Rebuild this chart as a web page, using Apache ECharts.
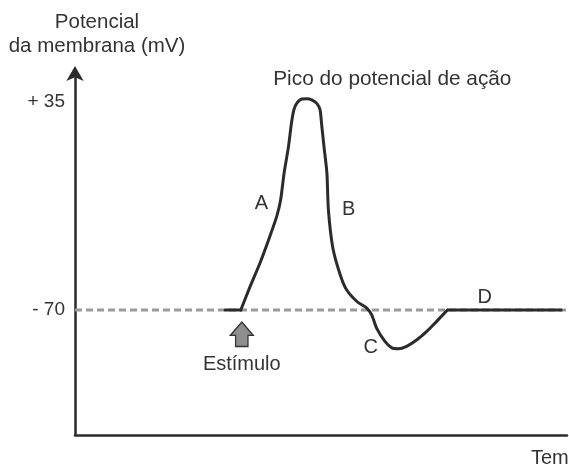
<!DOCTYPE html>
<html>
<head>
<meta charset="utf-8">
<script src="https://cdn.jsdelivr.net/npm/echarts@6/dist/echarts.min.js"></script>
<style>
  html, body { margin: 0; padding: 0; background: #ffffff; }
  #chart { width: 569px; height: 466px; }
</style>
</head>
<body>
<div id="chart"></div>
<script>
// Action potential trace: time (arbitrary units) and membrane potential (mV)
const tempo = [3.05, 3.37, 3.56, 3.76, 3.96, 4.10, 4.18, 4.25, 4.34, 4.40, 4.45, 4.51, 4.61, 4.71, 4.81, 4.91, 4.98, 5.01, 5.06, 5.12, 5.15, 5.24, 5.39, 5.52, 5.73, 5.93, 6.03, 6.13, 6.30, 6.44, 6.57, 6.74, 6.95, 7.15, 7.35, 7.57, 9.88];
const potencial = [-70, -70, -58.1, -46.3, -32.9, -22.8, -14.4, -0.9, 12.5, 24.3, 31.0, 34.3, 36.4, 36.5, 36.0, 34.3, 31.0, 24.3, 12.5, -0.9, -19.4, -38.6, -52.2, -59.8, -65.7, -69.0, -72.4, -79.1, -85.8, -89.1, -89.5, -88.3, -85.0, -80.8, -75.7, -70, -70];

// Resting potential and the labelled values on the vertical axis
const repouso = -70;
const marcasY = [35, -70];

// Phase letters and their anchor points (time, mV)
const fases = ['A', 'B', 'C', 'D'];
const fasesT = [3.79, 5.56, 6.01, 8.33];
const fasesV = [-16.1, -19.4, -89.1, -63.9];

// Stimulus marker and peak caption anchors (time, mV)
const estimulo = { texto: 'Estímulo', t: 3.39, v: -97.6, setaV: -82.2 };
const pico = { texto: 'Pico do potencial de ação', t: 6.45, v: 46.3 };

const FONTE = 'Liberation Sans';
const TINTA = '#2b2b2b';
const TEXTO = '#333333';

const tracado = tempo.map((t, i) => [t, potencial[i]]);
const n = tracado.length;
// flat start and end stay straight; the spike itself is smoothed
const inicio = tracado.slice(0, 2);
const pulso = tracado.slice(1, n - 1);
const fim = tracado.slice(n - 2);

const rotulos = fases.map((f, i) => ({ value: [fasesT[i], fasesV[i]], name: f, fs: 20 }));
rotulos.push({ value: [estimulo.t, estimulo.v], name: estimulo.texto, fs: 20 });
rotulos.push({ value: [pico.t, pico.v], name: pico.texto, fs: 20.8 });

const chart = echarts.init(document.getElementById('chart'), null, { renderer: 'canvas' });

const linha = (nome, dados, suave) => ({
  name: nome,
  type: 'line',
  data: dados,
  symbol: 'none',
  smooth: suave,
  silent: true,
  z: 3,
  lineStyle: { color: TINTA, width: 3, cap: 'round', join: 'round' }
});

chart.setOption({
  animation: false,
  backgroundColor: '#ffffff',
  grid: { left: 75, right: 2, top: 72, bottom: 31, containLabel: false },
  xAxis: {
    type: 'value',
    min: 0,
    max: 10,
    axisLine: { show: true, onZero: false, lineStyle: { color: TINTA, width: 2.5 } },
    axisTick: { show: false },
    axisLabel: { show: false },
    splitLine: { show: false }
  },
  yAxis: {
    type: 'value',
    min: -133,
    max: 50,
    axisLine: {
      show: true,
      onZero: false,
      symbol: ['none', 'arrow'],
      symbolSize: [13, 15],
      symbolOffset: [0, 6],
      lineStyle: { color: TINTA, width: 2.5 }
    },
    axisTick: { show: false },
    splitLine: { show: false },
    axisLabel: {
      customValues: marcasY,
      margin: 10,
      color: TEXTO,
      fontFamily: FONTE,
      fontSize: 19,
      formatter: v => (v > 0 ? '+ ' : '- ') + Math.abs(v)
    }
  },
  graphic: [
    {
      type: 'text',
      x: 97, y: 22,
      silent: true,
      style: {
        text: 'Potencial',
        align: 'center', verticalAlign: 'middle',
        fill: TEXTO,
        font: '20.5px "' + FONTE + '"'
      }
    },
    {
      type: 'text',
      x: 97, y: 46,
      silent: true,
      style: {
        text: 'da membrana (mV)',
        align: 'center', verticalAlign: 'middle',
        fill: TEXTO,
        font: '20.5px "' + FONTE + '"'
      }
    },
    {
      type: 'text',
      x: 531, y: 458,
      silent: true,
      style: {
        text: 'Tempo',
        align: 'left', verticalAlign: 'middle',
        fill: TEXTO,
        font: '20px "' + FONTE + '"'
      }
    }
  ],
  series: [
    {
      name: 'repouso',
      type: 'line',
      data: [[0, repouso], [10, repouso]],
      symbol: 'none',
      silent: true,
      z: 1,
      lineStyle: { color: '#9a9a9a', width: 3, type: [7, 4] }
    },
    linha('inicio', inicio, false),
    linha('pulso', pulso, 0.25),
    linha('fim', fim, false),
    {
      name: 'estimulo',
      type: 'scatter',
      data: [[estimulo.t, estimulo.setaV]],
      symbol: 'path://M11.5,0 L23,13.4 L17.7,13.4 L17.7,24.4 L5.3,24.4 L5.3,13.4 L0,13.4 Z',
      symbolSize: [23, 24.5],
      silent: true,
      z: 4,
      itemStyle: { color: '#8e8e8e', borderColor: '#333333', borderWidth: 1.3, opacity: 1 }
    },
    {
      name: 'rotulos',
      type: 'scatter',
      data: rotulos,
      symbolSize: 0,
      silent: true,
      z: 5,
      itemStyle: { opacity: 1 },
      label: {
        show: true,
        position: 'inside',
        formatter: p => p.name,
        color: TEXTO,
        opacity: 1,
        fontFamily: FONTE,
        fontSize: 20,
        rich: {}
      }
    }
  ]
});

// per-label font size
chart.setOption({
  series: [{}, {}, {}, {}, {}, {
    data: rotulos.map(r => ({ value: r.value, name: r.name, label: { fontSize: r.fs } }))
  }]
});
</script>
</body>
</html>
